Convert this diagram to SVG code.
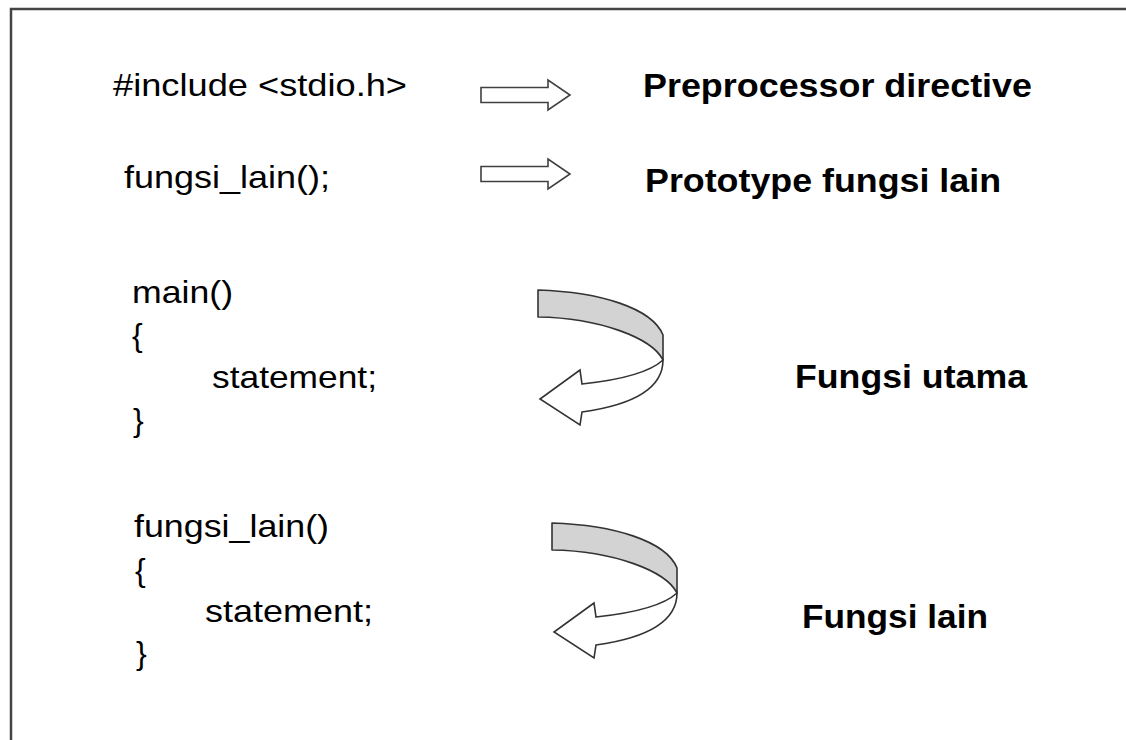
<svg xmlns="http://www.w3.org/2000/svg" width="1126" height="740" viewBox="0 0 1126 740">
  <style>
    .code { font-family: "Liberation Sans", Arial, sans-serif; font-size: 32px; fill: #000; }
    .label { font-family: "Liberation Sans", Arial, sans-serif; font-size: 33px; font-weight: bold; fill: #000; }
    .frame { fill: none; stroke: #444; stroke-width: 2.5; }
    .block-arrow { fill: #fff; stroke: #404040; stroke-width: 1.6; stroke-linejoin: miter; }
    .band { fill: #d3d3d3; stroke: #333; stroke-width: 1.6; stroke-linejoin: round; }
    .ribbon { fill: #fff; stroke: #333; stroke-width: 1.6; stroke-linejoin: miter; }
  </style>
  <defs>
    <!-- straight hollow arrow pointing right, origin at shaft start centre -->
    <path id="straightArrow" class="block-arrow" d="M0,-7.5 L67,-7.5 L67,-15 L89,0 L67,15 L67,7.5 L0,7.5 Z"/>
    <!-- curled ribbon arrow turning back to the left -->
    <g id="curlArrow">
      <path class="ribbon" d="M663,360 C650,372 620,380 582,384 L580,370 L540,399 L580,425 L582,412 C625,406 663,392 663,360 Z"/>
      <path class="band" d="M538,290 C600,292 652,308 663,335 L663,360 C652,338 600,318 538,317 Z"/>
    </g>
  </defs>

  <rect width="1126" height="740" fill="#fff"/>
  <path class="frame" d="M11,740 L11,9 L1126,9"/>

  <g id="include">
    <text class="code" x="113" y="96" textLength="294" lengthAdjust="spacingAndGlyphs">#include &lt;stdio.h&gt;</text>
  </g>
  <g id="prototype">
    <text class="code" x="124" y="188" textLength="206" lengthAdjust="spacingAndGlyphs">fungsi_lain();</text>
  </g>
  <g id="main-block">
    <text class="code" x="132" y="303" textLength="101" lengthAdjust="spacingAndGlyphs">main()</text>
    <text class="code" x="132" y="346">{</text>
    <text class="code" x="212" y="388" textLength="165" lengthAdjust="spacingAndGlyphs">statement;</text>
    <text class="code" x="133" y="431">}</text>
  </g>
  <g id="other-block">
    <text class="code" x="134" y="537" textLength="195" lengthAdjust="spacingAndGlyphs">fungsi_lain()</text>
    <text class="code" x="135" y="581">{</text>
    <text class="code" x="205" y="622" textLength="168" lengthAdjust="spacingAndGlyphs">statement;</text>
    <text class="code" x="136" y="664">}</text>
  </g>

  <g id="label-preprocessor">
    <text class="label" x="643" y="97" textLength="389" lengthAdjust="spacingAndGlyphs">Preprocessor directive</text>
  </g>
  <g id="label-prototype">
    <text class="label" x="645" y="192" textLength="356" lengthAdjust="spacingAndGlyphs">Prototype fungsi lain</text>
  </g>
  <g id="label-main">
    <text class="label" x="795" y="388" textLength="232" lengthAdjust="spacingAndGlyphs">Fungsi utama</text>
  </g>
  <g id="label-other">
    <text class="label" x="802" y="628" textLength="186" lengthAdjust="spacingAndGlyphs">Fungsi lain</text>
  </g>

  <g id="connectors">
    <use href="#straightArrow" x="481" y="95"/>
    <use href="#straightArrow" x="481" y="174"/>
    <use href="#curlArrow"/>
    <use href="#curlArrow" transform="translate(14,233)"/>
  </g>
</svg>
